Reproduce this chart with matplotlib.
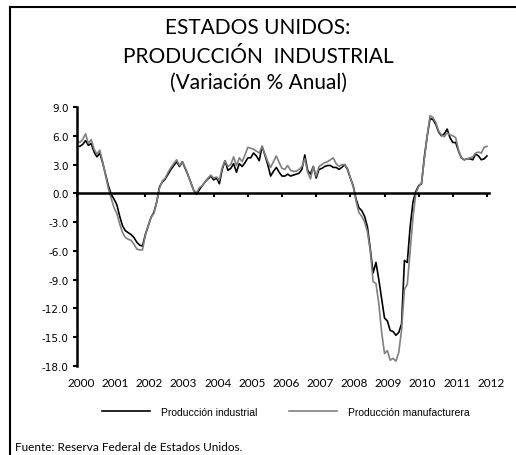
import matplotlib
matplotlib.use('Agg')
import matplotlib.pyplot as plt
from matplotlib.lines import Line2D
from matplotlib.transforms import blended_transform_factory
import numpy as np

plt.rcParams['axes.unicode_minus'] = False

# monthly year-on-year % change, Jan 2000 - Jan 2012
industrial = [
    4.9, 4.9, 5.1, 5.5, 5.0, 5.2, 4.3, 3.8, 4.2, 3.2, 2.0, 0.8,
    -0.1, -0.6, -1.2, -2.4, -3.4, -3.9, -4.1, -4.3, -4.6, -5.1, -5.4, -5.5,
    -4.3, -3.4, -2.5, -2.0, -0.9, 0.7, 1.2, 1.5, 2.0, 2.5, 2.9, 3.3,
    2.8, 3.3, 2.6, 1.9, 1.1, 0.3, -0.1, 0.4, 0.8, 1.2, 1.5, 1.8,
    1.4, 1.6, 1.0, 2.5, 3.4, 2.4, 2.6, 3.1, 2.2, 3.1, 2.8, 3.2,
    3.7, 3.7, 4.2, 3.9, 3.4, 4.9, 4.0, 3.0, 1.8, 2.3, 2.7, 2.2,
    1.8, 1.8, 2.0, 1.8, 1.9, 2.0, 2.1, 2.5, 4.0, 2.4, 2.0, 2.8,
    1.6, 2.5, 2.6, 2.8, 2.9, 2.9, 2.7, 2.7, 2.5, 2.7, 3.0, 2.5,
    1.6, 0.8, -0.6, -1.5, -1.8, -2.4, -3.5, -5.8, -8.3, -7.2, -9.0, -11.0,
    -13.0, -13.3, -14.3, -14.4, -14.8, -14.5, -13.6, -7.0, -7.2, -3.5, -0.9, 0.2,
    0.8, 1.0, 3.8, 6.0, 7.8, 7.7, 7.2, 6.4, 6.0, 6.2, 6.7, 5.8,
    5.3, 5.3, 4.4, 3.7, 3.5, 3.6, 3.6, 3.5, 4.1, 3.9, 3.5, 3.6,
    3.9,
]
manufacturera = [
    5.5, 5.3, 5.6, 6.2, 5.2, 5.6, 4.6, 4.1, 4.5, 3.3, 1.9, 0.5,
    -0.5, -1.5, -2.1, -3.2, -4.1, -4.6, -4.8, -4.9, -5.3, -5.8, -5.9, -5.9,
    -4.4, -3.4, -2.5, -2.1, -0.9, 0.6, 1.3, 1.6, 2.2, 2.7, 3.1, 3.5,
    2.9, 3.3, 2.7, 1.9, 1.1, 0.3, 0.1, 0.6, 0.8, 1.2, 1.6, 1.9,
    1.6, 1.7, 1.4, 2.7, 3.4, 2.8, 3.0, 3.8, 2.9, 3.7, 3.3, 4.0,
    4.8, 4.7, 4.6, 4.4, 4.2, 4.9, 4.1, 3.3, 2.7, 3.3, 3.9, 3.2,
    2.6, 2.5, 2.9, 2.4, 2.3, 2.3, 2.5, 2.8, 3.6, 2.2, 1.5, 2.8,
    1.8, 2.8, 3.0, 3.2, 3.3, 3.5, 3.7, 3.1, 2.8, 3.0, 3.0, 2.6,
    1.6, 0.7, -0.8, -2.0, -2.4, -3.0, -4.0, -6.0, -9.2, -9.4, -11.5, -14.5,
    -16.7, -16.4, -17.4, -17.2, -17.5, -16.6, -14.2, -10.0, -9.5, -6.0, -2.5, 0.0,
    0.7, 1.1, 3.6, 6.0, 8.1, 7.9, 7.4, 6.5, 6.1, 5.9, 6.3, 6.1,
    6.0, 5.8, 4.5, 3.7, 3.5, 3.6, 3.7, 3.8, 4.2, 4.3, 4.2, 4.8,
    4.9,
]
years = list(range(2000, 2013))
yticks = [9.0, 6.0, 3.0, 0.0, -3.0, -6.0, -9.0, -12.0, -15.0, -18.0]

months = np.arange(len(industrial))

fig = plt.figure(figsize=(5.16, 4.56), dpi=100)
ax = fig.add_axes([77/516, 1 - 367/456, 412/516, 259/456])

ax.plot(months, industrial, color='black', lw=1.2, label='Producción industrial')
ax.plot(months, manufacturera, color='#808080', lw=1.2, label='Producción manufacturera')

ax.set_xlim(0, 144.7)
ax.set_ylim(-18, 9)
ax.set_yticks(yticks)
ax.set_yticklabels(['%.1f' % v for v in yticks], fontsize=7.5, family='DejaVu Sans')
ax.tick_params(axis='y', direction='out', length=3, width=1.5, pad=3)

ax.set_xticks([12 * i for i in range(len(years))])
ax.set_xticklabels([])
ax.tick_params(axis='x', direction='out', length=3, width=1.5)

for s in ['top', 'right']:
    ax.spines[s].set_visible(False)
ax.spines['bottom'].set_position(('data', 0))
ax.spines['bottom'].set_linewidth(1.8)
ax.spines['left'].set_linewidth(1.8)

trans = blended_transform_factory(ax.transData, ax.transAxes)
for i, yr in enumerate(years):
    ax.text(12 * i + 1.4, -0.065, str(yr), transform=trans, ha='center', va='center',
            fontsize=8.5, family='Lato', clip_on=False)

fig.text(0.5, 1 - 28/456, 'ESTADOS UNIDOS:', ha='center', va='center', fontsize=15, family='Lato')
fig.text(0.5, 1 - 57/456, 'PRODUCCIÓN  INDUSTRIAL', ha='center', va='center', fontsize=15, family='Lato')
fig.text(0.5, 1 - 83/456, '(Variación % Anual)', ha='center', va='center', fontsize=15, family='Lato')

fig.legend(loc='center', bbox_to_anchor=(286/516, 1 - 413/456), ncol=2, frameon=False,
           prop={'family': 'Liberation Sans', 'size': 7.5}, handlelength=4.6,
           handletextpad=1.1, columnspacing=3.0)

fig.text(15/516, 1 - 448/456, 'Fuente: Reserva Federal de Estados Unidos.', ha='left', va='center',
         fontsize=8.5, family='Lato')

# outer frame (top and left edges visible)
fig.add_artist(Line2D([10/516, 10/516], [0, 1 - 8/456], color='black', lw=1.5, transform=fig.transFigure))
fig.add_artist(Line2D([10/516, 1], [1 - 8/456, 1 - 8/456], color='black', lw=1.5, transform=fig.transFigure))

fig.savefig('out.png', dpi=100)
